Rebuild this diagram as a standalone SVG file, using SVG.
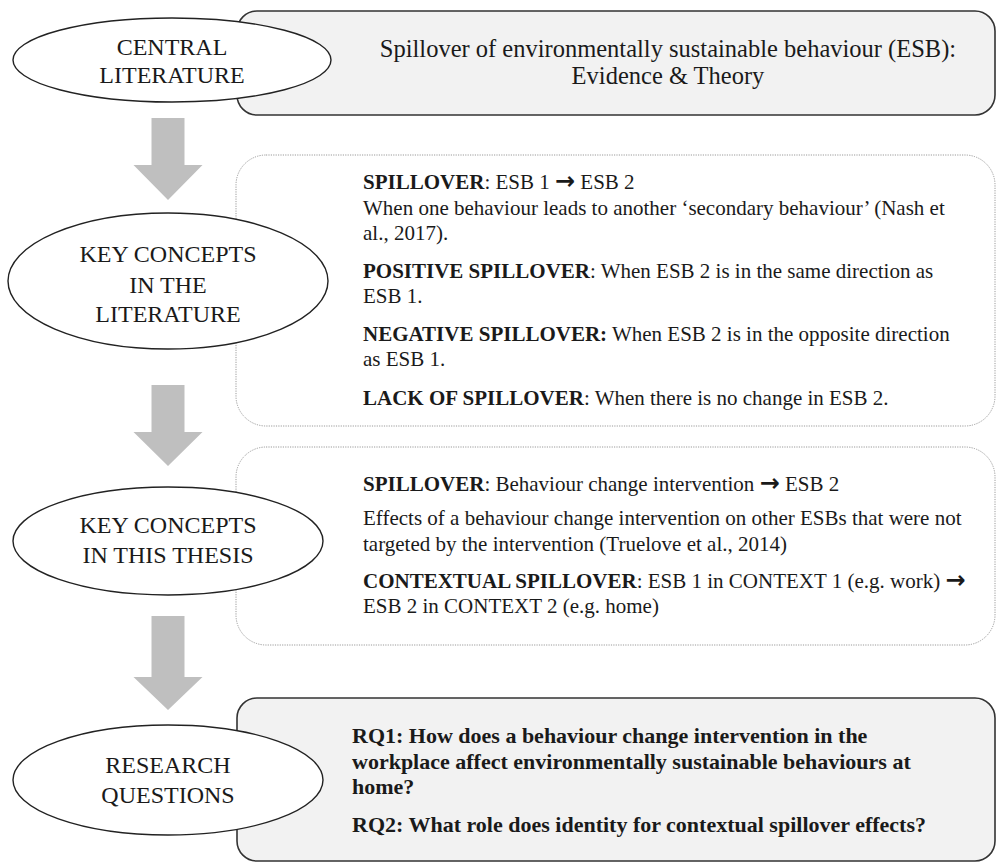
<svg xmlns="http://www.w3.org/2000/svg" width="996" height="863" viewBox="0 0 996 863">
  <style>
    .oval { fill: #ffffff; stroke: #222222; stroke-width: 1.4; }
    .solidbox { fill: #f2f2f2; stroke: #333333; stroke-width: 1.6; }
    .dotbox { fill: #ffffff; stroke: #9a9a9a; stroke-width: 1; stroke-dasharray: 1.2 1.2; }
    .arrow { fill: #bfbfbf; stroke: none; }
    text { font-family: "Liberation Serif", "Times New Roman", serif; fill: #1a1a1a; }
    .lbl { font-size: 24px; text-anchor: middle; }
    .head { font-size: 24.5px; text-anchor: middle; }
    .body { font-size: 21px; }
    .rq { font-size: 22px; font-weight: bold; }
    .b { font-weight: bold; }
    .sym { font-family: "DejaVu Sans", sans-serif; font-weight: bold; font-size: 24px; }
  </style>

  <!-- flow arrows between the stages -->
  <g id="connectors">
    <polygon class="arrow" points="151.5,118 184.5,118 184.5,165 202.5,165 168,200 133.5,165 151.5,165"/>
    <polygon class="arrow" points="151.5,385 184.5,385 184.5,432 202.5,432 168,466 133.5,432 151.5,432"/>
    <polygon class="arrow" points="151.5,616 184.5,616 184.5,677 202.5,677 168,710 133.5,677 151.5,677"/>
  </g>

  <!-- stage 1: central literature -->
  <g id="central-literature">
    <rect class="solidbox" x="237" y="11" width="758" height="104" rx="20"/>
    <text class="head" x="668" y="57">Spillover of environmentally sustainable behaviour (ESB):</text>
    <text class="head" x="668" y="84">Evidence &amp; Theory</text>
    <ellipse class="oval" cx="172" cy="60" rx="159" ry="42"/>
    <text class="lbl" x="172" y="55">CENTRAL</text>
    <text class="lbl" x="172" y="83">LITERATURE</text>
  </g>

  <!-- stage 2: key concepts in the literature -->
  <g id="key-concepts-literature">
    <rect class="dotbox" x="236" y="155" width="759" height="271" rx="30"/>
    <text class="body" x="363" y="189"><tspan class="b">SPILLOVER</tspan>: ESB 1 <tspan class="sym">→</tspan> ESB 2</text>
    <text class="body" x="363" y="215">When one behaviour leads to another ‘secondary behaviour’ (Nash et</text>
    <text class="body" x="363" y="240">al., 2017).</text>
    <text class="body" x="363" y="278"><tspan class="b">POSITIVE SPILLOVER</tspan>: When ESB 2 is in the same direction as</text>
    <text class="body" x="363" y="303">ESB 1.</text>
    <text class="body" x="363" y="341"><tspan class="b">NEGATIVE SPILLOVER:</tspan> When ESB 2 is in the opposite direction</text>
    <text class="body" x="363" y="366">as ESB 1.</text>
    <text class="body" x="363" y="405"><tspan class="b">LACK OF SPILLOVER</tspan>: When there is no change in ESB 2.</text>
    <ellipse class="oval" cx="168" cy="281" rx="160" ry="68"/>
    <text class="lbl" x="168" y="262">KEY CONCEPTS</text>
    <text class="lbl" x="168" y="293">IN THE</text>
    <text class="lbl" x="168" y="322">LITERATURE</text>
  </g>

  <!-- stage 3: key concepts in this thesis -->
  <g id="key-concepts-thesis">
    <rect class="dotbox" x="236" y="447" width="759" height="198" rx="30"/>
    <text class="body" x="363" y="491"><tspan class="b">SPILLOVER</tspan>: Behaviour change intervention <tspan class="sym">→</tspan> ESB 2</text>
    <text class="body" x="363" y="525">Effects of a behaviour change intervention on other ESBs that were not</text>
    <text class="body" x="363" y="551">targeted by the intervention (Truelove et al., 2014)</text>
    <text class="body" x="363" y="588"><tspan class="b">CONTEXTUAL SPILLOVER</tspan>: ESB 1 in CONTEXT 1 (e.g. work) <tspan class="sym">→</tspan></text>
    <text class="body" x="363" y="613">ESB 2 in CONTEXT 2 (e.g. home)</text>
    <ellipse class="oval" cx="168" cy="541" rx="155" ry="54"/>
    <text class="lbl" x="168" y="533">KEY CONCEPTS</text>
    <text class="lbl" x="168" y="563">IN THIS THESIS</text>
  </g>

  <!-- stage 4: research questions -->
  <g id="research-questions">
    <rect class="solidbox" x="237" y="698" width="758" height="163" rx="20"/>
    <text class="rq" x="352" y="743">RQ1: How does a behaviour change intervention in the</text>
    <text class="rq" x="352" y="769">workplace affect environmentally sustainable behaviours at</text>
    <text class="rq" x="352" y="794">home?</text>
    <text class="rq" x="352" y="832">RQ2: What role does identity for contextual spillover effects?</text>
    <ellipse class="oval" cx="168" cy="780" rx="155" ry="55"/>
    <text class="lbl" x="168" y="773">RESEARCH</text>
    <text class="lbl" x="168" y="803">QUESTIONS</text>
  </g>
</svg>
